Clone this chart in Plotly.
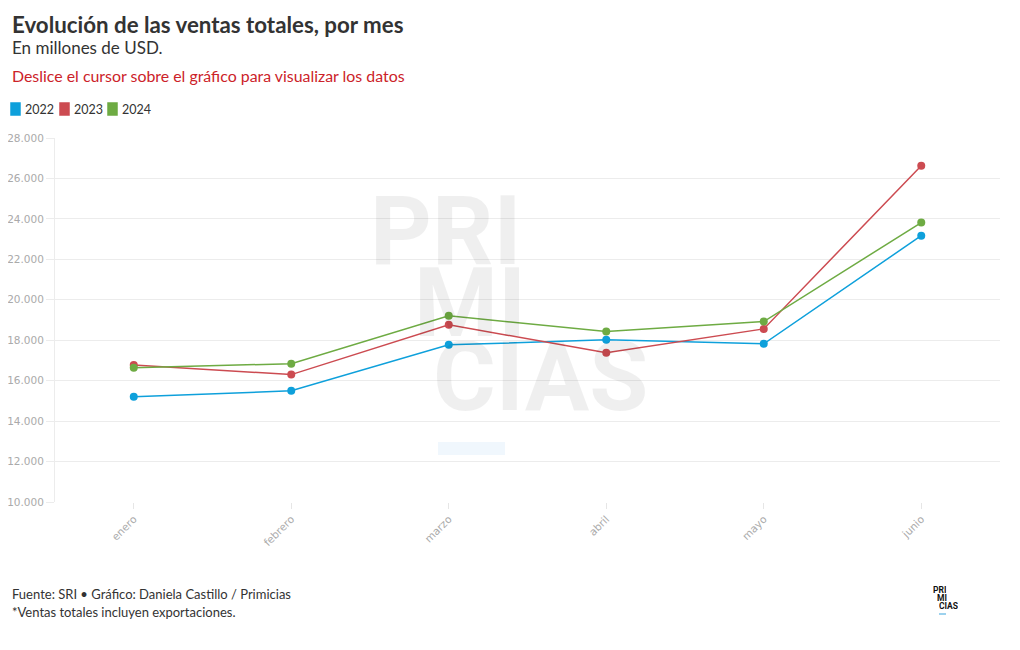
import plotly.graph_objects as go

months = ["enero", "febrero", "marzo", "abril", "mayo", "junio"]
ventas_2022 = [15200, 15500, 17770, 18020, 17820, 23170]
ventas_2023 = [16780, 16300, 18760, 17380, 18560, 26630]
ventas_2024 = [16640, 16840, 19210, 18430, 18920, 23820]
series_names = ["2022", "2023", "2024"]
colors = ["#0ea0db", "#cc4b51", "#6eab43"]
y_ticks = list(range(10000, 28001, 2000))

OFF = 8  # page body margin
W, H = 1020 - OFF, 650 - OFF
L, T = 55 - OFF, 138 - OFF
R = W - (1000 - OFF)
B = H - (502 - OFF)
PW, PH = W - L - R, H - T - B

def px(x):
    return (x - OFF - L) / PW

def py(y):
    return (H - B - (y - OFF)) / PH

fig = go.Figure()
for name, vals, c in zip(series_names, [ventas_2022, ventas_2023, ventas_2024], colors):
    fig.add_trace(go.Scatter(
        x=months, y=vals, name=name, mode="lines+markers",
        line=dict(color=c, width=1.5),
        marker=dict(color=c, size=8),
        showlegend=False,
        hovertemplate="%{y:,.0f}<extra>" + name + "</extra>",
    ))

font_main = "Source Sans Pro, Lato, Noto Sans, sans-serif"
annotations = []
shapes = []

# watermark (translucent so the lines show through)
for txt, x0, yc in [("PRI", 368, 231), ("MI", 412, 303), ("CIAS", 431, 377)]:
    annotations.append(dict(text="<b>" + txt + "</b>", x=px(x0), y=py(yc), xref="paper", yref="paper",
                            xanchor="left", yanchor="middle", valign="middle", height=72,
                            showarrow=False,
                            font=dict(family="Roboto, DejaVu Sans, sans-serif", size=96,
                                      color="rgba(0,0,0,0.063)")))
shapes.append(dict(type="rect", xref="paper", yref="paper", x0=px(438), x1=px(505), y0=py(455), y1=py(442),
                   fillcolor="#f0f7fd", line=dict(width=0), layer="below"))

# header
annotations += [
    dict(text="<b>Evolución de las ventas totales, por mes</b>", x=px(10), y=py(24), xref="paper", yref="paper",
         xanchor="left", yanchor="middle", showarrow=False, font=dict(family=font_main, size=22.3, color="#333333")),
    dict(text="En millones de USD.", x=px(10), y=py(47), xref="paper", yref="paper",
         xanchor="left", yanchor="middle", showarrow=False, font=dict(family=font_main, size=17, color="#333333")),
    dict(text="Deslice el cursor sobre el gráfico para visualizar los datos", x=px(10), y=py(76), xref="paper",
         yref="paper", xanchor="left", yanchor="middle", showarrow=False,
         font=dict(family=font_main, size=15.9, color="#cc2229")),
]

# legend
leg_x = [11, 60, 108]
for name, c, lx in zip(series_names, colors, leg_x):
    x0, x1, y0, y1 = px(lx), px(lx + 9), py(115), py(103)
    shapes.append(dict(type="rect", xref="paper", yref="paper", x0=x0, x1=x1, y0=y0, y1=y1,
                       fillcolor=c, line=dict(color=c, width=1.5, ), layer="above"))
    annotations.append(dict(text=name, x=px(lx + 12), y=py(109), xref="paper", yref="paper",
                            xanchor="left", yanchor="middle", showarrow=False,
                            font=dict(family=font_main, size=12.5, color="#333333")))

# footer
annotations += [
    dict(text="Fuente: SRI • Gráfico: Daniela Castillo / Primicias", x=px(10), y=py(594), xref="paper",
         yref="paper", xanchor="left", yanchor="middle", showarrow=False,
         font=dict(family=font_main, size=13, color="#333333")),
    dict(text="*Ventas totales incluyen exportaciones.", x=px(10), y=py(612), xref="paper",
         yref="paper", xanchor="left", yanchor="middle", showarrow=False,
         font=dict(family=font_main, size=13, color="#333333")),
]
for txt, lx, ly in [("PRI", 931, 590), ("MI", 935, 598), ("CIAS", 937, 606)]:
    annotations.append(dict(text="<b>" + txt + "</b>", x=px(lx), y=py(ly), xref="paper", yref="paper",
                            xanchor="left", yanchor="middle", showarrow=False, height=8,
                            font=dict(family="Roboto, sans-serif", size=8.5, color="#111111")))
shapes.append(dict(type="line", xref="paper", yref="paper", x0=px(939), x1=px(946), y0=py(614), y1=py(614),
                   line=dict(color="#7cc3e8", width=1.5)))

fig.update_layout(
    width=W, height=H,
    margin=dict(l=L, r=R, t=T, b=B, autoexpand=False),
    paper_bgcolor="white", plot_bgcolor="white",
    separators=",.",
    showlegend=False,
    annotations=annotations,
    shapes=shapes,
    xaxis=dict(
        type="category", range=[-0.5, len(months) - 0.5], tickangle=-45, showgrid=False, zeroline=False,
        ticks="outside", ticklen=6, tickcolor="#e6e6e6", showline=False,
        tickfont=dict(family="DejaVu Sans, sans-serif", size=10.5, color="#aaaaaa"),
    ),
    yaxis=dict(
        range=[10000, 28000], tickvals=y_ticks, tickformat=",.0f",
        showgrid=True, gridcolor="#ececec", gridwidth=1, zeroline=False,
        showline=True, linecolor="#ececec", linewidth=1,
        ticks="outside", ticklen=8, tickcolor="#ececec",
        tickfont=dict(family="DejaVu Sans, sans-serif", size=10.5, color="#aaaaaa"),
    ),
    hovermode="x",
)

fig.write_html("out.html")
